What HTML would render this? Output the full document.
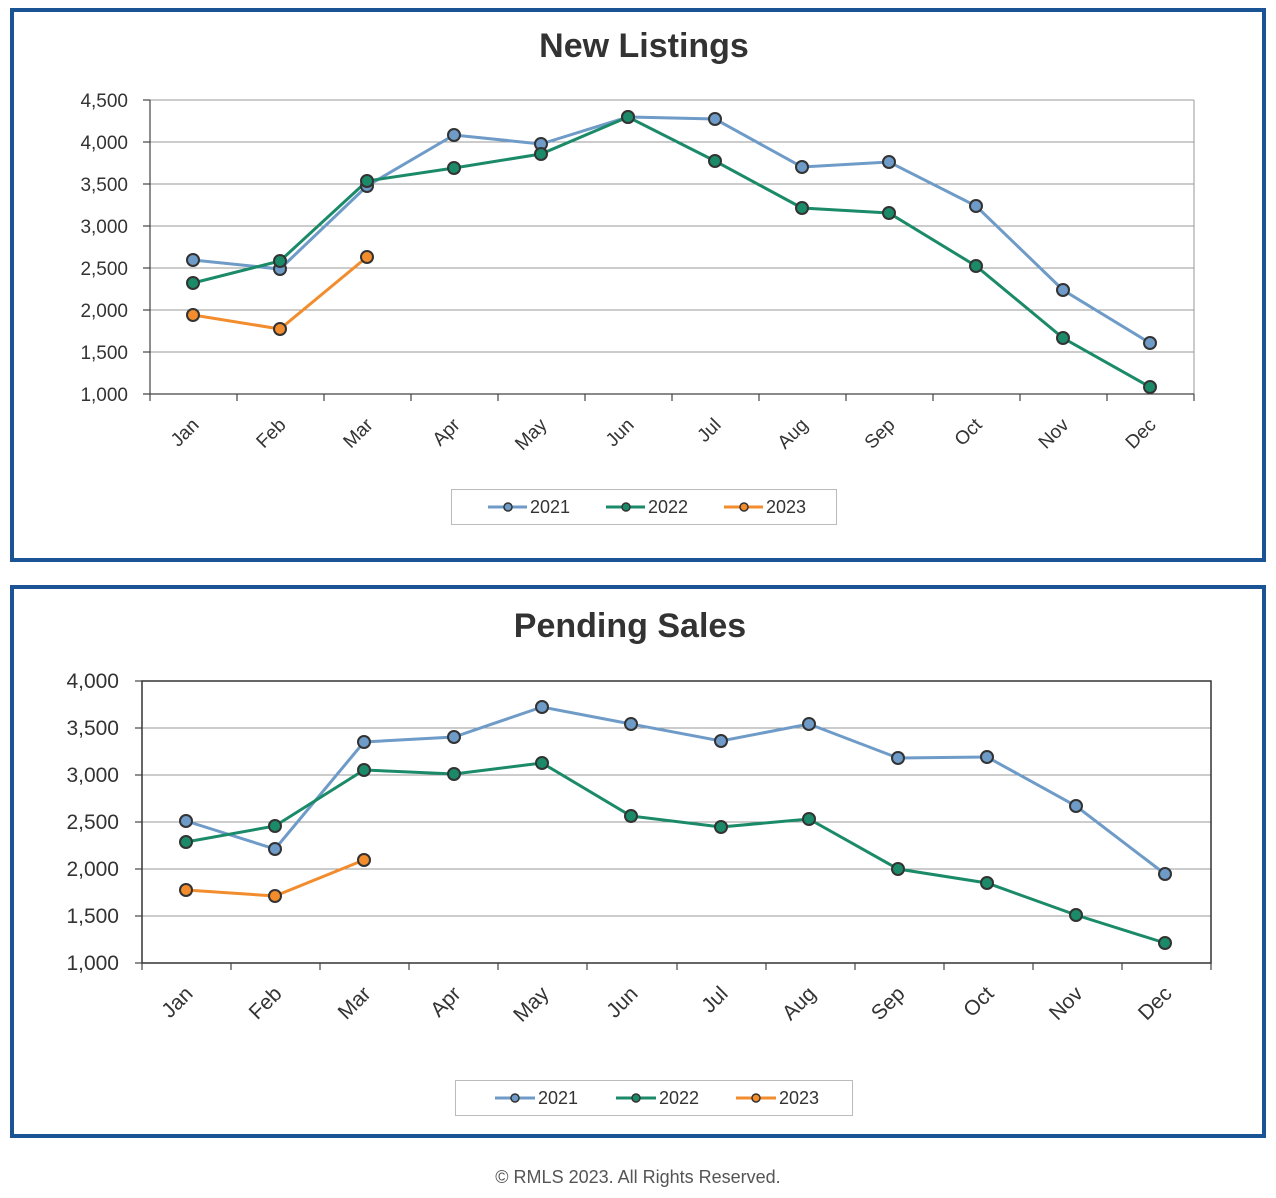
<!DOCTYPE html>
<html><head><meta charset="utf-8"><style>
body{margin:0;background:#fff;width:1276px;height:1198px;overflow:hidden}
svg{position:absolute;left:0;top:0}
text{font-family:"Liberation Sans",sans-serif}
</style></head><body>
<svg width="1276" height="1198" viewBox="0 0 1276 1198">
<!-- Chart 1 -->
<rect x="12" y="10" width="1252" height="550" fill="#fff" stroke="#1b5494" stroke-width="4"/>
<text x="644" y="57" text-anchor="middle" font-size="34" font-weight="bold" fill="#333">New Listings</text>
<g stroke="#999" stroke-width="1">
<line x1="150" y1="100" x2="1194" y2="100"/><line x1="150" y1="142" x2="1194" y2="142"/><line x1="150" y1="184" x2="1194" y2="184"/><line x1="150" y1="226" x2="1194" y2="226"/><line x1="150" y1="268" x2="1194" y2="268"/><line x1="150" y1="310" x2="1194" y2="310"/><line x1="150" y1="352" x2="1194" y2="352"/>
<line x1="1194" y1="100" x2="1194" y2="394"/>
</g>
<g stroke="#444" stroke-width="1.2">
<line x1="150" y1="100" x2="150" y2="394"/><line x1="143" y1="394" x2="1194" y2="394"/>
<line x1="143" y1="100" x2="150" y2="100"/><line x1="143" y1="142" x2="150" y2="142"/><line x1="143" y1="184" x2="150" y2="184"/><line x1="143" y1="226" x2="150" y2="226"/><line x1="143" y1="268" x2="150" y2="268"/><line x1="143" y1="310" x2="150" y2="310"/><line x1="143" y1="352" x2="150" y2="352"/>
<line x1="150" y1="394" x2="150" y2="401"/><line x1="237" y1="394" x2="237" y2="401"/><line x1="324" y1="394" x2="324" y2="401"/><line x1="411" y1="394" x2="411" y2="401"/><line x1="498" y1="394" x2="498" y2="401"/><line x1="585" y1="394" x2="585" y2="401"/><line x1="672" y1="394" x2="672" y2="401"/><line x1="759" y1="394" x2="759" y2="401"/><line x1="846" y1="394" x2="846" y2="401"/><line x1="933" y1="394" x2="933" y2="401"/><line x1="1020" y1="394" x2="1020" y2="401"/><line x1="1107" y1="394" x2="1107" y2="401"/><line x1="1194" y1="394" x2="1194" y2="401"/>
</g>
<g font-size="19" fill="#333" text-anchor="end">
<text x="128" y="107">4,500</text><text x="128" y="149">4,000</text><text x="128" y="191">3,500</text><text x="128" y="233">3,000</text><text x="128" y="275">2,500</text><text x="128" y="317">2,000</text><text x="128" y="359">1,500</text><text x="128" y="401">1,000</text>
</g>
<g font-size="19" fill="#333" text-anchor="end">
<text transform="translate(200,426) rotate(-45)">Jan</text><text transform="translate(287,426) rotate(-45)">Feb</text><text transform="translate(374,426) rotate(-45)">Mar</text><text transform="translate(461,426) rotate(-45)">Apr</text><text transform="translate(548,426) rotate(-45)">May</text><text transform="translate(635,426) rotate(-45)">Jun</text><text transform="translate(722,426) rotate(-45)">Jul</text><text transform="translate(809,426) rotate(-45)">Aug</text><text transform="translate(896,426) rotate(-45)">Sep</text><text transform="translate(983,426) rotate(-45)">Oct</text><text transform="translate(1070,426) rotate(-45)">Nov</text><text transform="translate(1157,426) rotate(-45)">Dec</text>
</g>
<g stroke-width="3" fill="none">
<polyline stroke="#6e9bc7" points="193,260 280,269 367,186 454,135 541,144 628,117 715,119 802,167 889,162 976,206 1063,290 1150,343"/>
<polyline stroke="#1b8a68" points="193,283 280,261 367,181 454,168 541,154 628,117 715,161 802,208 889,213 976,266 1063,338 1150,387"/>
<polyline stroke="#f28c2c" points="193,315 280,329 367,257"/>
</g>
<g stroke="#333" stroke-width="2">
<g fill="#6e9bc7"><circle cx="193" cy="260" r="6"/><circle cx="280" cy="269" r="6"/><circle cx="367" cy="186" r="6"/><circle cx="454" cy="135" r="6"/><circle cx="541" cy="144" r="6"/><circle cx="628" cy="117" r="6"/><circle cx="715" cy="119" r="6"/><circle cx="802" cy="167" r="6"/><circle cx="889" cy="162" r="6"/><circle cx="976" cy="206" r="6"/><circle cx="1063" cy="290" r="6"/><circle cx="1150" cy="343" r="6"/></g>
<g fill="#1b8a68"><circle cx="193" cy="283" r="6"/><circle cx="280" cy="261" r="6"/><circle cx="367" cy="181" r="6"/><circle cx="454" cy="168" r="6"/><circle cx="541" cy="154" r="6"/><circle cx="628" cy="117" r="6"/><circle cx="715" cy="161" r="6"/><circle cx="802" cy="208" r="6"/><circle cx="889" cy="213" r="6"/><circle cx="976" cy="266" r="6"/><circle cx="1063" cy="338" r="6"/><circle cx="1150" cy="387" r="6"/></g>
<g fill="#f28c2c"><circle cx="193" cy="315" r="6"/><circle cx="280" cy="329" r="6"/><circle cx="367" cy="257" r="6"/></g>
</g>
<rect x="451.5" y="489.5" width="385" height="35" fill="#fff" stroke="#bbb"/>
<g stroke-width="3"><line x1="488" y1="507" x2="527" y2="507" stroke="#6e9bc7"/><line x1="606" y1="507" x2="645" y2="507" stroke="#1b8a68"/><line x1="724" y1="507" x2="763" y2="507" stroke="#f28c2c"/></g>
<g stroke="#333" stroke-width="1.5"><circle cx="508" cy="507" r="4" fill="#6e9bc7"/><circle cx="626" cy="507" r="4" fill="#1b8a68"/><circle cx="744" cy="507" r="4" fill="#f28c2c"/></g>
<g font-size="18" fill="#333"><text x="530" y="513">2021</text><text x="648" y="513">2022</text><text x="766" y="513">2023</text></g>

<!-- Chart 2 -->
<rect x="12" y="587" width="1252" height="549" fill="#fff" stroke="#1b5494" stroke-width="4"/>
<text x="630" y="637" text-anchor="middle" font-size="34" font-weight="bold" fill="#333">Pending Sales</text>
<g stroke="#999" stroke-width="1">
<line x1="142" y1="728" x2="1211" y2="728"/><line x1="142" y1="775" x2="1211" y2="775"/><line x1="142" y1="822" x2="1211" y2="822"/><line x1="142" y1="869" x2="1211" y2="869"/><line x1="142" y1="916" x2="1211" y2="916"/>
</g>
<rect x="142" y="681" width="1069" height="282" fill="none" stroke="#333" stroke-width="1.5"/>
<g stroke="#444" stroke-width="1.2">
<line x1="135" y1="681" x2="142" y2="681"/><line x1="135" y1="728" x2="142" y2="728"/><line x1="135" y1="775" x2="142" y2="775"/><line x1="135" y1="822" x2="142" y2="822"/><line x1="135" y1="869" x2="142" y2="869"/><line x1="135" y1="916" x2="142" y2="916"/><line x1="135" y1="963" x2="142" y2="963"/>
<line x1="142" y1="963" x2="142" y2="970"/><line x1="231" y1="963" x2="231" y2="970"/><line x1="320" y1="963" x2="320" y2="970"/><line x1="409" y1="963" x2="409" y2="970"/><line x1="498" y1="963" x2="498" y2="970"/><line x1="587" y1="963" x2="587" y2="970"/><line x1="677" y1="963" x2="677" y2="970"/><line x1="766" y1="963" x2="766" y2="970"/><line x1="855" y1="963" x2="855" y2="970"/><line x1="944" y1="963" x2="944" y2="970"/><line x1="1033" y1="963" x2="1033" y2="970"/><line x1="1122" y1="963" x2="1122" y2="970"/><line x1="1211" y1="963" x2="1211" y2="970"/>
</g>
<g font-size="21" fill="#333" text-anchor="end">
<text x="119" y="688">4,000</text><text x="119" y="735">3,500</text><text x="119" y="782">3,000</text><text x="119" y="829">2,500</text><text x="119" y="876">2,000</text><text x="119" y="923">1,500</text><text x="119" y="970">1,000</text>
</g>
<g font-size="21" fill="#333" text-anchor="end">
<text transform="translate(194,995) rotate(-45)">Jan</text><text transform="translate(283,995) rotate(-45)">Feb</text><text transform="translate(372,995) rotate(-45)">Mar</text><text transform="translate(462,995) rotate(-45)">Apr</text><text transform="translate(550,995) rotate(-45)">May</text><text transform="translate(639,995) rotate(-45)">Jun</text><text transform="translate(729,995) rotate(-45)">Jul</text><text transform="translate(817,995) rotate(-45)">Aug</text><text transform="translate(906,995) rotate(-45)">Sep</text><text transform="translate(995,995) rotate(-45)">Oct</text><text transform="translate(1084,995) rotate(-45)">Nov</text><text transform="translate(1173,995) rotate(-45)">Dec</text>
</g>
<g stroke-width="3" fill="none">
<polyline stroke="#6e9bc7" points="186,821 275,849 364,742 454,737 542,707 631,724 721,741 809,724 898,758 987,757 1076,806 1165,874"/>
<polyline stroke="#1b8a68" points="186,842 275,826 364,770 454,774 542,763 631,816 721,827 809,819 898,869 987,883 1076,915 1165,943"/>
<polyline stroke="#f28c2c" points="186,890 275,896 364,860"/>
</g>
<g stroke="#333" stroke-width="2">
<g fill="#6e9bc7"><circle cx="186" cy="821" r="6"/><circle cx="275" cy="849" r="6"/><circle cx="364" cy="742" r="6"/><circle cx="454" cy="737" r="6"/><circle cx="542" cy="707" r="6"/><circle cx="631" cy="724" r="6"/><circle cx="721" cy="741" r="6"/><circle cx="809" cy="724" r="6"/><circle cx="898" cy="758" r="6"/><circle cx="987" cy="757" r="6"/><circle cx="1076" cy="806" r="6"/><circle cx="1165" cy="874" r="6"/></g>
<g fill="#1b8a68"><circle cx="186" cy="842" r="6"/><circle cx="275" cy="826" r="6"/><circle cx="364" cy="770" r="6"/><circle cx="454" cy="774" r="6"/><circle cx="542" cy="763" r="6"/><circle cx="631" cy="816" r="6"/><circle cx="721" cy="827" r="6"/><circle cx="809" cy="819" r="6"/><circle cx="898" cy="869" r="6"/><circle cx="987" cy="883" r="6"/><circle cx="1076" cy="915" r="6"/><circle cx="1165" cy="943" r="6"/></g>
<g fill="#f28c2c"><circle cx="186" cy="890" r="6"/><circle cx="275" cy="896" r="6"/><circle cx="364" cy="860" r="6"/></g>
</g>
<rect x="455.5" y="1080.5" width="397" height="35" fill="#fff" stroke="#bbb"/>
<g stroke-width="3"><line x1="495" y1="1098" x2="535" y2="1098" stroke="#6e9bc7"/><line x1="616" y1="1098" x2="656" y2="1098" stroke="#1b8a68"/><line x1="736" y1="1098" x2="776" y2="1098" stroke="#f28c2c"/></g>
<g stroke="#333" stroke-width="1.5"><circle cx="515" cy="1098" r="4" fill="#6e9bc7"/><circle cx="636" cy="1098" r="4" fill="#1b8a68"/><circle cx="756" cy="1098" r="4" fill="#f28c2c"/></g>
<g font-size="18" fill="#333"><text x="538" y="1104">2021</text><text x="659" y="1104">2022</text><text x="779" y="1104">2023</text></g>

<text x="638" y="1183" text-anchor="middle" font-size="18" fill="#555">© RMLS 2023. All Rights Reserved.</text>
</svg>
</body></html>
